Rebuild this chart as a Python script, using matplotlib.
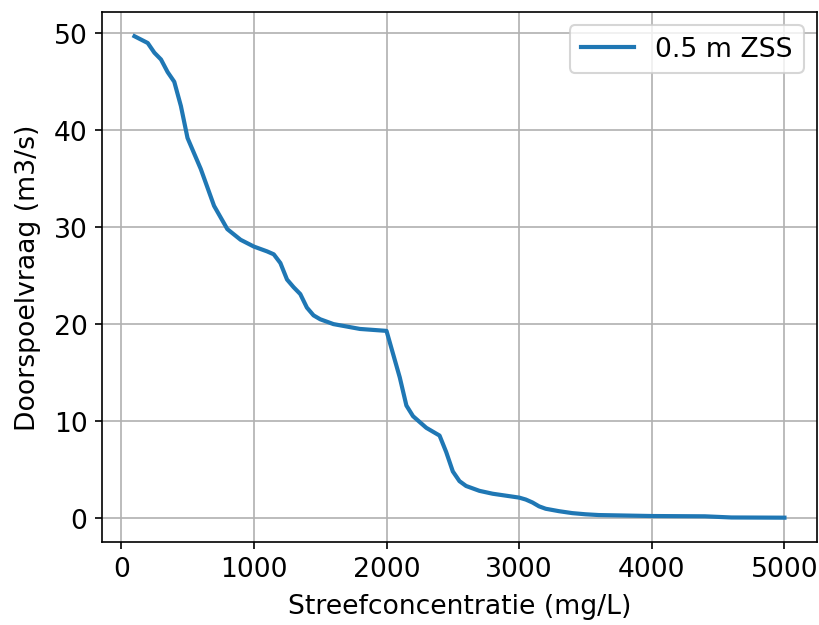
import numpy as np
import matplotlib
matplotlib.use("Agg")
import matplotlib.pyplot as plt

concentratie = [100, 200, 250, 300, 350, 400, 450, 500, 600, 700, 800, 900, 1000,
                1100, 1150, 1200, 1250, 1300, 1350, 1400, 1450, 1500, 1600, 1800,
                2000, 2100, 2150, 2200, 2300, 2400, 2450, 2500, 2550, 2600, 2700,
                2800, 3000, 3050, 3100, 3150, 3200, 3300, 3400, 3500, 3600, 3800,
                4000, 4400, 4600, 5000]
doorspoeling = [49.7, 49.0, 48.0, 47.3, 46.0, 45.0, 42.5, 39.2, 36.0, 32.2, 29.8,
                28.7, 28.0, 27.5, 27.2, 26.3, 24.6, 23.8, 23.1, 21.7, 20.9, 20.5,
                20.0, 19.5, 19.3, 14.5, 11.6, 10.5, 9.3, 8.5, 6.8, 4.8, 3.8, 3.3,
                2.8, 2.5, 2.1, 1.9, 1.6, 1.2, 0.95, 0.7, 0.5, 0.38, 0.3, 0.25,
                0.2, 0.17, 0.05, 0.03]
label = '0.5 m ZSS'

plt.rcParams['font.size'] = 12.8

fig = plt.figure(figsize=(819 / 150, 626 / 150), dpi=150)
ax = fig.add_axes([0.1245, 0.133, 0.873, 0.846])
ax.plot(concentratie, doorspoeling, color='#1f77b4', linewidth=2, label=label)
ax.set_xlabel('Streefconcentratie (mg/L)', labelpad=5)
ax.set_ylabel('Doorspoelvraag (m3/s)', labelpad=6)
ax.grid(True)
ax.legend(loc='upper right')
fig.savefig('out.png', dpi=150)
